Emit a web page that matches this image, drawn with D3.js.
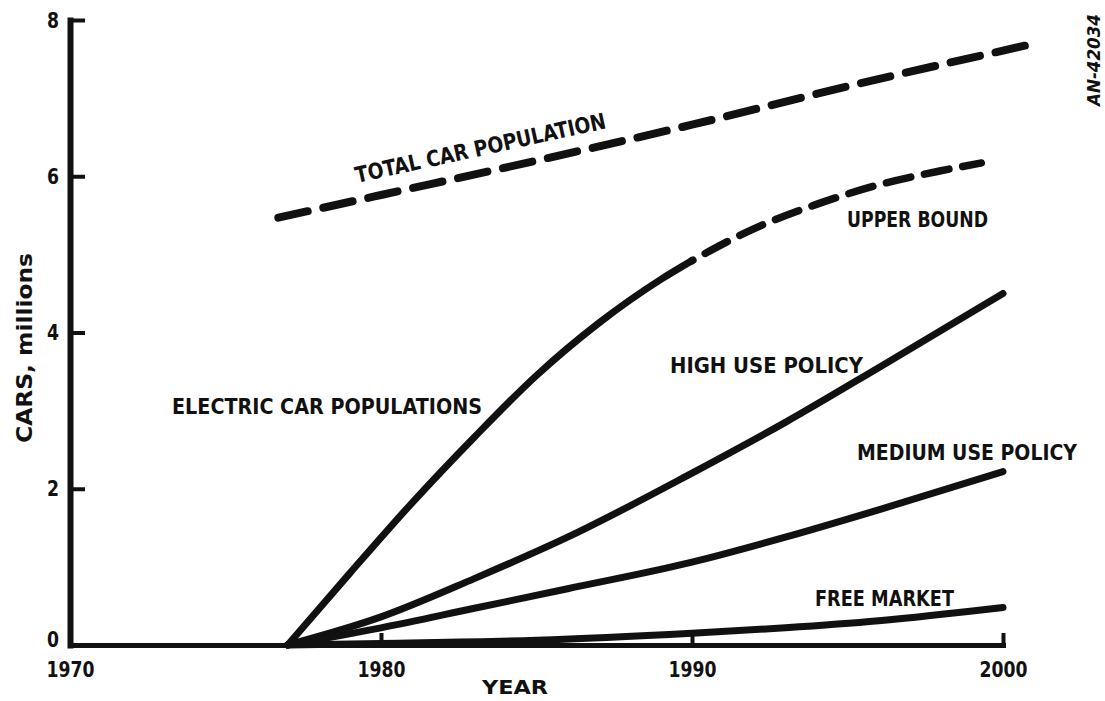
<!DOCTYPE html>
<html>
<head>
<meta charset="utf-8">
<script src="https://cdn.jsdelivr.net/npm/d3@7/dist/d3.min.js"></script>
<style>
  html, body { margin: 0; padding: 0; background: #fff; }
  svg { display: block; }
  text { font-family: "Liberation Sans Narrow", "DejaVu Sans Condensed", "Arial Narrow", sans-serif; font-weight: bold; fill: #111; }
</style>
</head>
<body>
<svg id="chart" width="1105" height="701"></svg>
<script>
// Projected car populations (millions) by year
const totalYears      = [1976.7, 1980, 1985, 1990, 1995, 2000.8];
const totalCars       = [5.47, 5.76, 6.2, 6.66, 7.15, 7.68];

const upperYears      = [1977, 1979, 1981, 1983, 1985, 1987, 1989, 1990, 1992, 1994, 1996, 1998, 1999.3];
const upperCars       = [0, 0.92, 1.82, 2.66, 3.45, 4.12, 4.68, 4.92, 5.33, 5.64, 5.89, 6.07, 6.17];
const upperSolidUntil = 1990;   // projection turns dashed after this year

const highYears       = [1977, 1980, 1983, 1986, 1990, 1993, 1996, 2000];
const highCars        = [0, 0.36, 0.85, 1.38, 2.2, 2.85, 3.55, 4.5];

const mediumYears     = [1977, 1980, 1983, 1986, 1990, 1993, 1996, 2000];
const mediumCars      = [0, 0.22, 0.47, 0.72, 1.06, 1.38, 1.73, 2.22];

const freeYears       = [1977, 1980, 1985, 1990, 1993, 1996, 2000];
const freeCars        = [0, 0.02, 0.06, 0.15, 0.22, 0.31, 0.48];

const xTickYears      = [1970, 1980, 1990, 2000];
const yTickValues     = [0, 2, 4, 6, 8];

const svg = d3.select("#chart");
const W = 1105, H = 701;
svg.append("rect").attr("width", W).attr("height", H).attr("fill", "#fff");

const x = d3.scaleLinear().domain([1970, 2000]).range([70, 1003]);
const y = d3.scaleLinear().domain([0, 8]).range([645, 20]);

const zip = (xs, ys) => xs.map((v, i) => [v, ys[i]]);
const line = d3.line().x(d => x(d[0])).y(d => y(d[1])).curve(d3.curveMonotoneX);

// Axes
const yAxis = d3.axisLeft(y).tickValues(yTickValues).tickSize(-15).tickSizeOuter(0).tickPadding(11);
const gy = svg.append("g").attr("transform", `translate(${x(1970)},0)`).call(yAxis);
gy.select(".domain").attr("stroke", "#111").attr("stroke-width", 6).attr("stroke-linecap", "square");
gy.selectAll(".tick line").attr("stroke", "#111").attr("stroke-width", 4);
gy.selectAll(".tick text").attr("font-size", 22).attr("fill", "#111")
  .attr("dy", d => d === 0 ? "0.05em" : "0.32em")
  .attr("textLength", 12).attr("lengthAdjust", "spacingAndGlyphs");

const xAxis = d3.axisBottom(x).tickValues(xTickYears).tickFormat(d3.format("d"))
  .tickSize(-12).tickSizeOuter(0).tickPadding(16);
const gx = svg.append("g").attr("transform", `translate(0,${y(0)})`).call(xAxis);
gx.select(".domain").attr("stroke", "#111").attr("stroke-width", 5).attr("stroke-linecap", "square");
gx.selectAll(".tick line").attr("stroke", "#111").attr("stroke-width", 4);
gx.selectAll(".tick text").attr("font-size", 22).attr("fill", "#111")
  .attr("textLength", 48).attr("lengthAdjust", "spacingAndGlyphs");

// Curves
const curves = svg.append("g").attr("fill", "none").attr("stroke", "#111")
  .attr("stroke-linecap", "round").attr("stroke-linejoin", "round");

curves.append("path").datum(zip(totalYears, totalCars))
  .attr("d", line).attr("stroke-width", 8).attr("stroke-dasharray", "30,16");

const upper = zip(upperYears, upperCars);
curves.append("path").datum(upper.filter(d => d[0] <= upperSolidUntil))
  .attr("d", line).attr("stroke-width", 7);
curves.append("path").datum(upper.filter(d => d[0] >= upperSolidUntil))
  .attr("d", line).attr("stroke-width", 7.5).attr("stroke-dasharray", "1,14,24,0");

curves.append("path").datum(zip(highYears, highCars)).attr("d", line).attr("stroke-width", 7);
curves.append("path").datum(zip(mediumYears, mediumCars)).attr("d", line).attr("stroke-width", 7);
curves.append("path").datum(zip(freeYears, freeCars)).attr("d", line).attr("stroke-width", 7);

// Annotations
function label(txt, px, py, len, size, rotate, anchor) {
  return svg.append("text")
    .attr("x", 0).attr("y", 0)
    .attr("font-size", size)
    .attr("text-anchor", anchor || "start")
    .attr("textLength", len).attr("lengthAdjust", "spacingAndGlyphs")
    .attr("transform", `translate(${px},${py}) rotate(${rotate || 0})`)
    .text(txt);
}

label("TOTAL CAR POPULATION", 357, 183, 256, 22, -12.4);
label("UPPER BOUND", 847, 227, 141, 22);
label("HIGH USE POLICY", 670, 373, 193, 22);
label("ELECTRIC CAR POPULATIONS", 172, 414, 310, 22);
label("MEDIUM USE POLICY", 857, 460, 220, 22);
label("FREE MARKET", 815, 606, 139, 22);
label("YEAR", 515, 694, 66, 19, 0, "middle");
label("CARS, millions", 32, 348, 190, 22, -90, "middle");
label("AN-42034", 1100, 60, 92, 17, -90, "middle").attr("font-style", "italic");
</script>
</body>
</html>
